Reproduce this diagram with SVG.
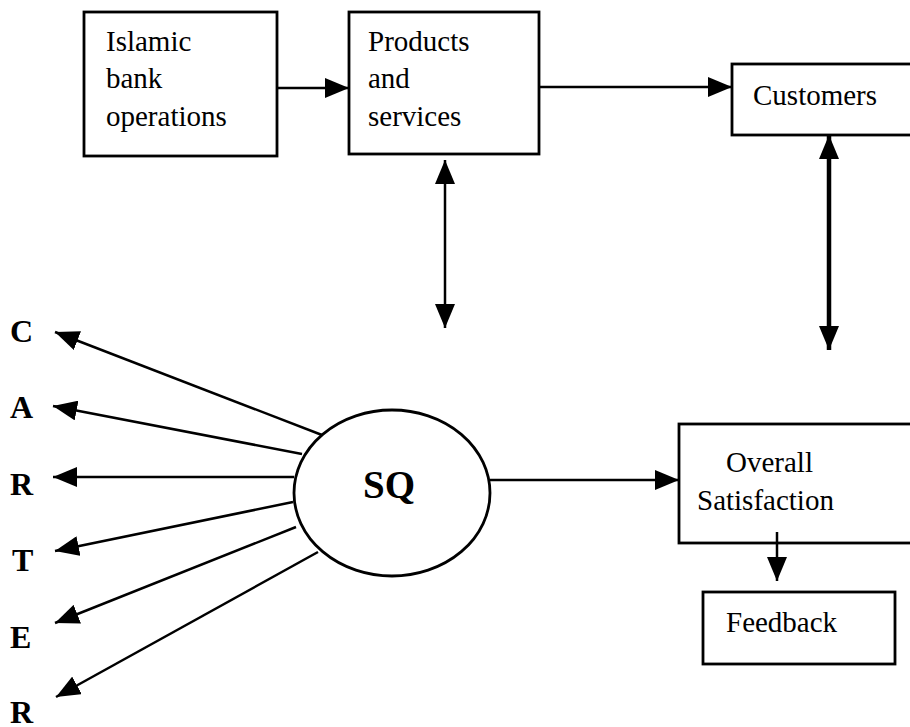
<svg xmlns="http://www.w3.org/2000/svg" width="910" height="727" viewBox="0 0 910 727">
<style>
.box{fill:#fff;stroke:#000;stroke-width:2.8}
.t{font-family:"Liberation Serif","Times New Roman",serif;font-size:29px;fill:#000}
.b{font-family:"Liberation Serif","Times New Roman",serif;font-size:32px;font-weight:bold;fill:#000}
.sqt{font-family:"Liberation Serif","Times New Roman",serif;font-size:39px;font-weight:bold;fill:#000}
.ln{stroke:#000;stroke-width:2.5;fill:none}
.thick{stroke:#000;stroke-width:4.5;fill:none}
</style>
<defs>
<marker id="ah" markerUnits="userSpaceOnUse" markerWidth="24" markerHeight="20" refX="24" refY="10" orient="auto">
<path d="M0,0 L24,10 L0,20 z" fill="#000"/>
</marker>
<marker id="as" markerUnits="userSpaceOnUse" markerWidth="24" markerHeight="20" refX="24" refY="10" orient="auto-start-reverse">
<path d="M0,0 L24,10 L0,20 z" fill="#000"/>
</marker>
</defs>
<rect width="910" height="727" fill="#fff"/>
<g id="islamic">
<rect class="box" x="84" y="12" width="193" height="144"/>
<text class="t" x="106" y="51">Islamic</text>
<text class="t" x="106" y="88">bank</text>
<text class="t" x="106" y="126">operations</text>
</g>
<g id="products">
<rect class="box" x="349" y="12" width="190" height="142"/>
<text class="t" x="368" y="51">Products</text>
<text class="t" x="368" y="88">and</text>
<text class="t" x="368" y="126">services</text>
</g>
<g id="customers">
<rect class="box" x="732" y="64" width="190" height="71"/>
<text class="t" x="753" y="105">Customers</text>
</g>
<g id="sq">
<ellipse cx="392" cy="493" rx="98" ry="83" fill="#fff" stroke="#000" stroke-width="2.8"/>
<text class="sqt" x="389" y="498" text-anchor="middle">SQ</text>
</g>
<g id="overall">
<rect class="box" x="679" y="424" width="240" height="119"/>
<text class="t" x="726" y="472">Overall</text>
<text class="t" x="697" y="510">Satisfaction</text>
</g>
<g id="feedback">
<rect class="box" x="703" y="592" width="192" height="72"/>
<text class="t" x="726" y="632">Feedback</text>
</g>
<g id="letters">
<text class="b" x="10" y="342">C</text>
<text class="b" x="10" y="418">A</text>
<text class="b" x="10" y="495">R</text>
<text class="b" x="12" y="571">T</text>
<text class="b" x="10" y="648">E</text>
<text class="b" x="10" y="723">R</text>
</g>
<g id="connectors">
<line class="ln" x1="277" y1="88" x2="349" y2="88" marker-end="url(#ah)"/>
<line class="ln" x1="539" y1="87" x2="732" y2="87" marker-end="url(#ah)"/>
<line class="ln" x1="445" y1="160" x2="445" y2="328" marker-start="url(#as)" marker-end="url(#ah)"/>
<line class="thick" x1="829" y1="135" x2="829" y2="350" marker-start="url(#as)" marker-end="url(#ah)"/>
<line class="ln" x1="490" y1="480" x2="679" y2="480" marker-end="url(#ah)"/>
<line class="ln" x1="777" y1="532" x2="777" y2="581" marker-end="url(#ah)"/>
<line class="ln" x1="322" y1="435" x2="55" y2="332" marker-end="url(#ah)"/>
<line class="ln" x1="302" y1="454" x2="53" y2="406" marker-end="url(#ah)"/>
<line class="ln" x1="294" y1="477" x2="53" y2="477" marker-end="url(#ah)"/>
<line class="ln" x1="293" y1="502" x2="55" y2="551" marker-end="url(#ah)"/>
<line class="ln" x1="296" y1="527" x2="55" y2="623" marker-end="url(#ah)"/>
<line class="ln" x1="318" y1="552" x2="56" y2="697" marker-end="url(#ah)"/>
</g>
</svg>
